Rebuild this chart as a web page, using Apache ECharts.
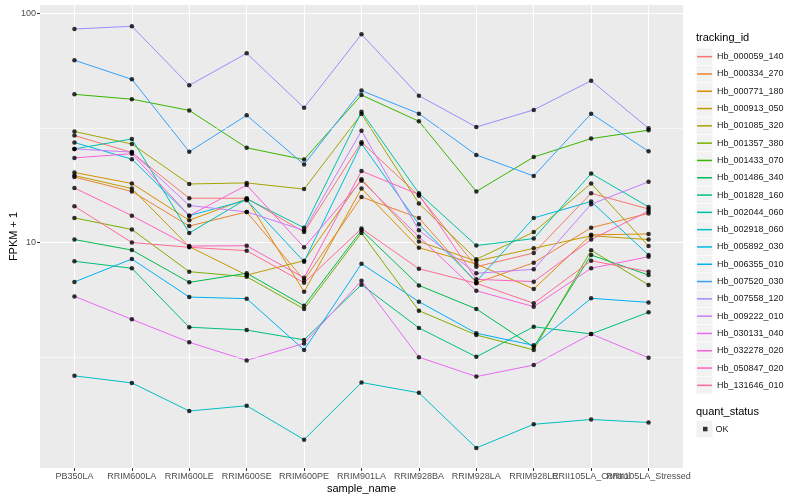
<!DOCTYPE html>
<html><head><meta charset="utf-8">
<script src="https://cdn.jsdelivr.net/npm/echarts@6/dist/echarts.min.js"></script>
<style>html,body{margin:0;padding:0;background:#fff}#c{width:800px;height:500px}</style>
</head><body><div id="c"></div>
<script>
const categories = ['PB350LA','RRIM600LA','RRIM600LE','RRIM600SE','RRIM600PE','RRIM901LA','RRIM928BA','RRIM928LA','RRIM928LE','RRII105LA_Control','RRII105LA_Stressed'];
const trackingIds = ['Hb_000059_140','Hb_000334_270','Hb_000771_180','Hb_000913_050','Hb_001085_320','Hb_001357_380','Hb_001433_070','Hb_001486_340','Hb_001828_160','Hb_002044_060','Hb_002918_060','Hb_005892_030','Hb_006355_010','Hb_007520_030','Hb_007558_120','Hb_009222_010','Hb_030131_040','Hb_032278_020','Hb_050847_020','Hb_131646_010'];
const palette = ['#F8766D','#EA8331','#D89000','#C09B00','#A3A500','#7CAE00','#39B600','#00BB4E','#00BF7D','#00C1A3','#00BFC4','#00BAE0','#00B0F6','#35A2FF','#9590FF','#C77CFF','#E76BF3','#FA62DB','#FF62BC','#FF6C91'];
const yTicks = [10, 100];
const yMinorTicks = [3.1623, 31.623];

const hb_000059_140 = [29.3, 24.7, 15.6, 15.6, 11.1, 27.4, 16.0, 7.84, 9.0, 16.4, 14.0];
const hb_000334_270 = [19.3, 16.7, 11.8, 13.6, 6.86, 15.8, 12.8, 6.66, 8.16, 11.6, 13.4];
const hb_000771_180 = [20.2, 18.1, 12.5, 15.5, 6.10, 17.2, 9.49, 8.06, 6.27, 10.8, 10.9];
const hb_000913_050 = [19.6, 17.2, 9.59, 7.21, 8.33, 18.9, 10.1, 8.30, 9.43, 10.7, 10.3];
const hb_001085_320 = [30.5, 26.9, 18.0, 18.2, 17.1, 36.4, 14.8, 8.45, 11.1, 18.1, 9.65];
const hb_001357_380 = [12.8, 11.4, 7.46, 7.09, 5.13, 11.0, 5.04, 3.95, 3.40, 9.25, 6.53];
const hb_001433_070 = [44.3, 42.2, 37.7, 25.9, 23.0, 44.0, 33.8, 16.7, 23.6, 28.4, 30.9];
const hb_001486_340 = [10.3, 9.27, 6.70, 7.34, 5.30, 11.3, 6.50, 5.13, 3.50, 8.82, 7.21];
const hb_001828_160 = [8.28, 7.72, 4.27, 4.15, 3.76, 6.55, 4.24, 3.17, 4.29, 3.99, 4.96];
const hb_002044_060 = [25.6, 28.3, 11.0, 15.5, 11.6, 37.2, 16.4, 9.70, 10.4, 20.0, 14.3];
const hb_002918_060 = [2.62, 2.44, 1.84, 1.94, 1.38, 2.45, 2.21, 1.27, 1.61, 1.69, 1.64];
const hb_005892_030 = [27.3, 23.1, 13.1, 15.3, 8.25, 27.0, 12.0, 6.75, 12.8, 15.1, 8.82];
const hb_006355_010 = [6.73, 8.47, 5.78, 5.69, 3.40, 8.08, 5.52, 4.02, 3.56, 5.71, 5.48];
const hb_007520_030 = [62.4, 51.5, 24.9, 35.9, 21.9, 46.0, 36.5, 24.1, 19.5, 36.5, 25.0];
const hb_007558_120 = [85.4, 87.8, 48.5, 66.9, 38.7, 81.0, 43.7, 31.9, 37.9, 50.8, 31.5];
const hb_009222_010 = [25.6, 24.8, 14.5, 13.6, 11.3, 30.7, 11.3, 7.34, 7.64, 14.7, 18.4];
const hb_030131_040 = [5.82, 4.62, 3.67, 3.06, 3.63, 6.81, 3.16, 2.60, 2.92, 3.99, 3.14];
const hb_032278_020 = [23.4, 24.4, 13.1, 17.8, 9.53, 18.6, 10.6, 6.16, 5.25, 7.72, 8.67];
const hb_050847_020 = [17.3, 13.1, 9.65, 9.68, 7.02, 20.5, 16.2, 6.91, 6.75, 10.3, 13.7];
const hb_131646_010 = [14.4, 10.0, 9.53, 9.21, 6.68, 11.5, 7.68, 6.64, 5.43, 8.33, 7.46];

const seriesValues = [hb_000059_140, hb_000334_270, hb_000771_180, hb_000913_050, hb_001085_320, hb_001357_380, hb_001433_070, hb_001486_340, hb_001828_160, hb_002044_060, hb_002918_060, hb_005892_030, hb_006355_010, hb_007520_030, hb_007558_120, hb_009222_010, hb_030131_040, hb_032278_020, hb_050847_020, hb_131646_010];

const FONT = 'Liberation Sans, Arial, sans-serif';
const catIdx = categories.map((c, i) => i);
// labels that overlap each other in the original are placed on separate (identical) axes
const labelGroups = [catIdx.slice(0, 9), [9], [10]];

const lineSeries = trackingIds.map((name, k) => ({
  name: name,
  type: 'line',
  data: seriesValues[k].map((v, i) => [i, v]),
  showSymbol: false,
  symbol: 'none',
  lineStyle: { width: 1, color: palette[k] },
  itemStyle: { color: palette[k] },
  z: 3,
  silent: true,
  animation: false
}));

const pointData = [];
seriesValues.forEach(arr => arr.forEach((v, i) => pointData.push([i, v])));

const gridHelper = {
  name: '_minor', type: 'line', data: [], z: 1, silent: true, animation: false,
  markLine: {
    symbol: ['none', 'none'], silent: true, label: { show: false }, animation: false,
    lineStyle: { color: '#ffffff', width: 0.55, type: 'solid' },
    data: yMinorTicks.map(v => ({ yAxis: v }))
  }
};

const keyBoxes = trackingIds.map((n, i) => ({
  type: 'rect', shape: { x: 696.5, y: 48.3 + i * 17.3, width: 16, height: 16.6 },
  style: { fill: '#F2F2F2' }, z: -1
}));
keyBoxes.push({ type: 'rect', shape: { x: 696.5, y: 420.7, width: 16, height: 16.6 }, style: { fill: '#F2F2F2' }, z: -1 });

function xAxisDef(idx, withName) {
  return {
    type: 'value', min: -0.6, max: 10.6, position: 'bottom', offset: 0,
    name: withName ? 'sample_name' : '', nameLocation: 'middle', nameGap: 15, nameMoveOverlap: false,
    nameTextStyle: { fontSize: 11, color: '#000', fontFamily: FONT, verticalAlign: 'top' },
    axisLine: { show: false, onZero: false },
    axisTick: { show: true, length: 3, lineStyle: { color: '#333333', width: 1 }, customValues: idx },
    axisLabel: { customValues: idx, fontSize: 9, color: '#4D4D4D', margin: 4, fontFamily: FONT, hideOverlap: false,
      formatter: v => categories[Math.round(v)] },
    splitLine: { show: true, lineStyle: { color: '#ffffff', width: 1.1 } }
  };
}

const option = {
  backgroundColor: '#ffffff',
  animation: false,
  textStyle: { fontFamily: FONT },
  title: [
    { text: 'tracking_id', left: 696, top: 32.5, padding: 0, textStyle: { fontSize: 11, fontWeight: 'normal', color: '#000', fontFamily: FONT } },
    { text: 'quant_status', left: 696, top: 406, padding: 0, textStyle: { fontSize: 11, fontWeight: 'normal', color: '#000', fontFamily: FONT } }
  ],
  grid: { left: 40, top: 5, width: 643, height: 463, show: true, backgroundColor: '#EBEBEB', borderWidth: 0,
    containLabel: false, outerBoundsMode: 'none' },
  xAxis: labelGroups.map((g, i) => xAxisDef(g, i === 0)),
  yAxis: {
    type: 'log', logBase: 10, min: 1.038, max: 108.7,
    name: 'FPKM + 1', nameLocation: 'middle', nameGap: 21, nameRotate: 90, nameMoveOverlap: false,
    nameTextStyle: { fontSize: 11, color: '#000', fontFamily: FONT },
    axisLine: { show: false, onZero: false },
    axisTick: { show: true, length: 3, lineStyle: { color: '#333333', width: 1 }, customValues: yTicks },
    axisLabel: { customValues: yTicks, fontSize: 9, color: '#4D4D4D', margin: 4, fontFamily: FONT,
      formatter: v => String(Math.round(v)) },
    splitLine: { show: true, lineStyle: { color: '#ffffff', width: 1.1 } },
    minorSplitLine: { show: false }
  },
  legend: [
    {
      orient: 'vertical', left: 697, top: 48, itemWidth: 15, itemHeight: 1.5, itemGap: 0,
      icon: 'rect', selectedMode: false, padding: 0,
      data: trackingIds,
      textStyle: { fontSize: 9, color: '#1A1A1A', lineHeight: 17.3, fontFamily: FONT }
    },
    {
      orient: 'vertical', left: 703, top: 420.4, itemWidth: 4.5, itemHeight: 4.5, itemGap: 0,
      icon: 'rect', selectedMode: false, padding: 0,
      data: ['OK'],
      textStyle: { fontSize: 9, color: '#1A1A1A', lineHeight: 17.3, fontFamily: FONT, padding: [0, 0, 0, 3] }
    }
  ],
  graphic: keyBoxes,
  series: [gridHelper].concat(lineSeries).concat([{
    name: 'OK', type: 'scatter', data: pointData, symbol: 'circle', symbolSize: 4.5,
    itemStyle: { color: '#000000' }, z: 5, silent: true, animation: false
  }])
};

const chart = echarts.init(document.getElementById('c'), null, { renderer: 'canvas' });
chart.setOption(option);
</script>
</body></html>
